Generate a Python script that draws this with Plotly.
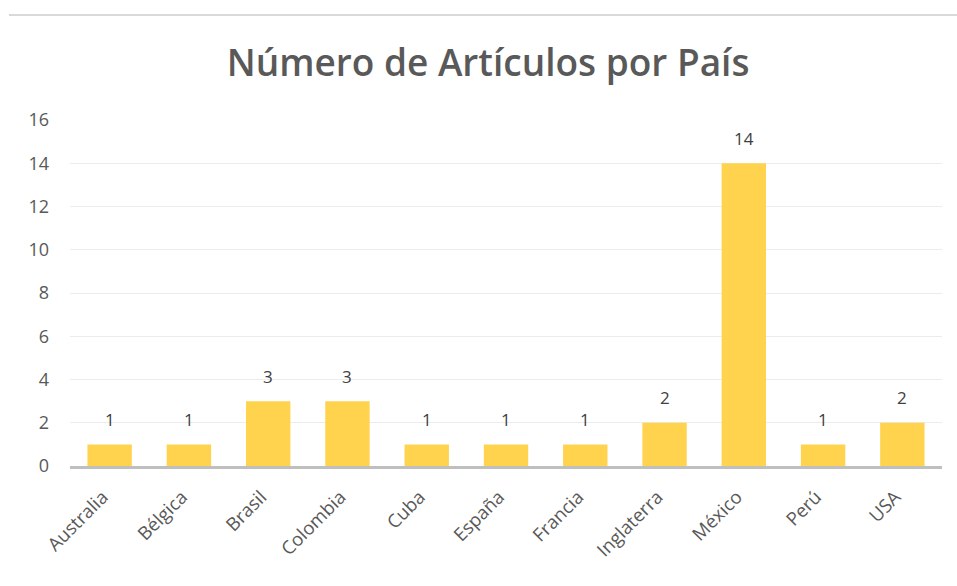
import plotly.graph_objects as go

paises = ["Australia", "Bélgica", "Brasil", "Colombia", "Cuba", "España",
          "Francia", "Inglaterra", "México", "Perú", "USA"]
articulos = [1, 1, 3, 3, 1, 1, 1, 2, 14, 1, 2]
y_ticks = [0, 2, 4, 6, 8, 10, 12, 14, 16]

fig = go.Figure()
fig.add_trace(go.Bar(
    x=paises, y=articulos,
    marker=dict(color="#FFD34E", line=dict(width=0)),
    cliponaxis=False,
))

annotations = [
    dict(x=p, y=v, xref="x", yref="y", text=str(v), showarrow=False,
         yanchor="middle", yshift=25,
         font=dict(family="Open Sans", size=17, color="#404040"))
    for p, v in zip(paises, articulos)
]

fig.update_layout(
    width=957, height=586,
    margin=dict(l=70, r=15, t=120, b=120),
    paper_bgcolor="white", plot_bgcolor="white",
    title=dict(text="Número de Artículos por País", x=0.51, xanchor="center",
               y=0.893, yanchor="middle",
               font=dict(family="Open Sans", size=37, color="#595959", weight=600)),
    bargap=0.44,
    showlegend=False,
    font=dict(family="Open Sans", color="#595959", size=18),
    annotations=annotations,
    shapes=[dict(type="line", xref="paper", yref="paper",
                 x0=-0.07, x1=1.03, y0=1.3035, y1=1.3035,
                 line=dict(color="#d9d9d9", width=2))],
)
fig.update_xaxes(tickangle=-45, showline=True, linecolor="#bfbfbf", linewidth=3,
                 ticks="", tickfont=dict(size=18.5, color="#595959"), showgrid=False,
                 ticklabelstandoff=10, ticklabelshift=-7)
fig.update_yaxes(range=[0, 16], tickvals=y_ticks, showgrid=True, gridcolor="#ececec",
                 gridwidth=1, zeroline=False, showline=False, ticks="",
                 tickfont=dict(size=18, color="#595959"), ticklabelstandoff=20)

fig.write_html("out.html", config={"displayModeBar": False},
               post_script="document.body.style.margin='0px';document.body.style.overflow='hidden';")
